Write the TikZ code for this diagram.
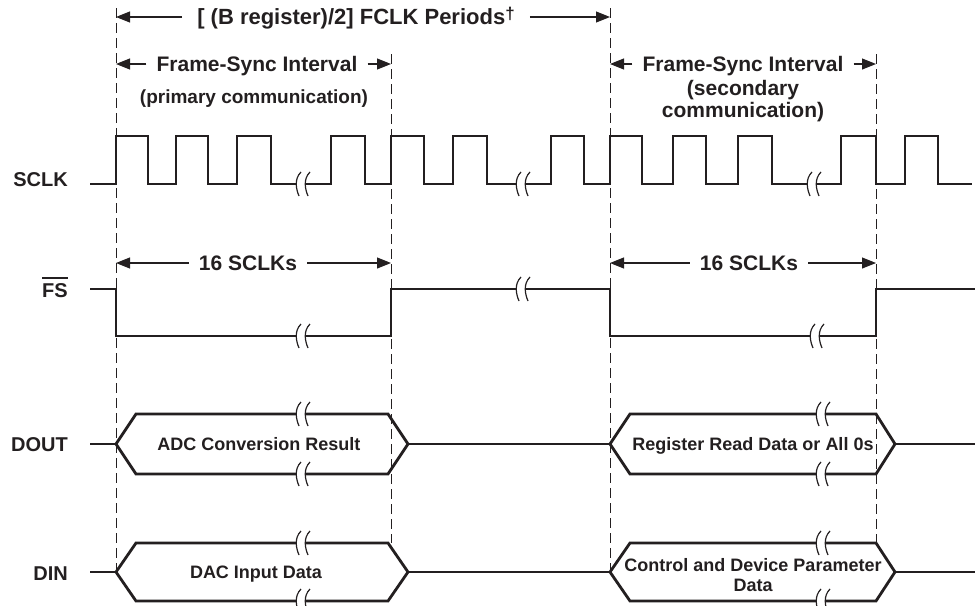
\documentclass[tikz,border=0pt]{standalone}
\usepackage{fontspec}
\setmainfont{Liberation Sans}
\usetikzlibrary{arrows.meta}
\definecolor{ink}{HTML}{231F20}
\newcommand{\wbrk}[2]{\begin{scope}[shift={(#1,#2)}]
 \fill[white] (-2,-12) .. controls (-9,-5) and (-7,5) .. (-4,12) -- (5,12) .. controls (2,5) and (0,-5) .. (7,-12) -- cycle;
 \draw[brkline] (-2,-12) .. controls (-9,-5) and (-7,5) .. (-4,12);
 \draw[brkline] (7,-12) .. controls (0,-5) and (2,5) .. (5,12);
\end{scope}}
\begin{document}
\begin{tikzpicture}[x=1pt,y=-1pt,
  sig/.style={line width=2.8pt, draw=ink, line join=miter},
  guide/.style={line width=0.9pt, draw=ink, dash pattern=on 10pt off 5pt},
  dim/.style={line width=1.1pt, draw=ink, -{Triangle[length=14pt,width=11pt]}},
  brkline/.style={line width=1.2pt, draw=ink},
  mid/.style={font=\fontsize{21}{24}\selectfont\bfseries, text=ink, inner ysep=0pt, text height=15pt, text depth=0pt},
  lbl/.style={font=\fontsize{20}{23}\selectfont\bfseries, text=ink, inner sep=0pt},
  buslbl/.style={font=\fontsize{18}{21}\selectfont\bfseries, text=ink, inner sep=0pt, text height=12.9pt, text depth=0pt}]
\useasboundingbox (0,0) rectangle (979,605);

% guide lines
\draw[guide] (116,8) -- (116,572);
\draw[guide] (610,8) -- (610,572);
\draw[guide] (391,54) -- (391,543);
\draw[guide] (876,54) -- (876,543);

% dimension labels and arrows
\coordinate (topL) at (116,17);
\coordinate (topR) at (610,17);
\node[mid, font=\fontsize{22}{25}\selectfont\bfseries, inner xsep=15pt] (toplbl) at (356,17) {[ (B register)/2] FCLK Periods\raisebox{5pt}{\fontsize{17}{17}\selectfont †}};
\draw[dim] (toplbl) -- (topL);
\draw[dim] (toplbl) -- (topR);

\coordinate (fsaL) at (116,64);
\coordinate (fsaR) at (391,64);
\node[mid, inner xsep=10pt] (fsa) at (257,64) {Frame-Sync Interval};
\draw[dim] (fsa) -- (fsaL);
\draw[dim] (fsa) -- (fsaR);
\node[mid, font=\fontsize{19}{23}\selectfont\bfseries] (fsa2) at (254,96) {(primary communication)};

\coordinate (fsbL) at (610,64);
\coordinate (fsbR) at (876,64);
\node[mid, inner xsep=10pt] (fsb) at (743,64) {Frame-Sync Interval};
\draw[dim] (fsb) -- (fsbL);
\draw[dim] (fsb) -- (fsbR);
\node[mid] (fsb2) at (743,88) {(secondary};
\node[mid] (fsb3) at (743,110) {communication)};

\coordinate (s16aL) at (116,263);
\coordinate (s16aR) at (391,263);
\node[mid, inner xsep=10pt] (s16a) at (248,263) {16 SCLKs};
\draw[dim] (s16a) -- (s16aL);
\draw[dim] (s16a) -- (s16aR);

\coordinate (s16bL) at (610,263);
\coordinate (s16bR) at (876,263);
\node[mid, inner xsep=10pt] (s16b) at (749,263) {16 SCLKs};
\draw[dim] (s16b) -- (s16bL);
\draw[dim] (s16b) -- (s16bR);

% signal names
\node[lbl, anchor=base east] (nsclk) at (68,186) {SCLK};
\node[lbl, anchor=base east] (nfs) at (68,297) {\vbox{\hrule height 2.2pt\kern 4pt\hbox{FS}}};
\node[lbl, anchor=base east] (ndout) at (68,451) {DOUT};
\node[lbl, anchor=base east] (ndin) at (68,580) {DIN};

% SCLK
\draw[sig] (90,184) -- (116,184) -- (116,136) -- (148,136) -- (148,184) -- (176,184) -- (176,136) -- (208,136) -- (208,184) -- (237,184) -- (237,136) -- (271,136) -- (271,184) -- (331,184) -- (331,136) -- (365,136) -- (365,184) -- (391,184) -- (391,136) -- (424,136) -- (424,184) -- (453,184) -- (453,136) -- (487,136) -- (487,184) -- (551,184) -- (551,136) -- (584,136) -- (584,184) -- (610,184) -- (610,136) -- (642,136) -- (642,184) -- (673,184) -- (673,136) -- (706,136) -- (706,184) -- (738,184) -- (738,136) -- (772,136) -- (772,184) -- (841,184) -- (841,136) -- (876,136) -- (876,184) -- (905,184) -- (905,136) -- (938,136) -- (938,184) -- (972,184);
\wbrk{303}{184}
\wbrk{523}{184}
\wbrk{814}{184}

% FS
\draw[sig] (90,289) -- (116,289) -- (116,336) -- (391,336) -- (391,289) -- (610,289) -- (610,336) -- (876,336) -- (876,289) -- (975,289);
\wbrk{303}{336}
\wbrk{523}{289}
\wbrk{817}{336}

% DOUT
\draw[sig] (90,444) -- (116,444);
\draw[sig] (116,444) -- (136,414) -- (388,414) -- (408,444) -- (388,474) -- (136,474) -- cycle;
\draw[sig] (408,444) -- (610,444);
\draw[sig] (610,444) -- (630,414) -- (876,414) -- (895,444) -- (876,474) -- (630,474) -- cycle;
\draw[sig] (895,444) -- (975,444);
\wbrk{303}{414}
\wbrk{303}{474}
\wbrk{823}{414}
\wbrk{823}{474}
\node[buslbl] (adc) at (259,444) {ADC Conversion Result};
\node[buslbl] (rrd) at (753,444) {Register Read Data or All 0s};

% DIN
\draw[sig] (90,572) -- (116,572);
\draw[sig] (116,572) -- (136,543) -- (388,543) -- (408,572) -- (388,601) -- (136,601) -- cycle;
\draw[sig] (408,572) -- (610,572);
\draw[sig] (610,572) -- (630,543) -- (876,543) -- (895,572) -- (876,601) -- (630,601) -- cycle;
\draw[sig] (895,572) -- (975,572);
\wbrk{303}{543}
\wbrk{303}{601}
\wbrk{823}{543}
\wbrk{823}{601}
\node[buslbl] (dac) at (256,572) {DAC Input Data};
\node[buslbl] (cdp) at (753,565) {Control and Device Parameter};
\node[buslbl] (cdp2) at (753,585) {Data};
\end{tikzpicture}
\end{document}
